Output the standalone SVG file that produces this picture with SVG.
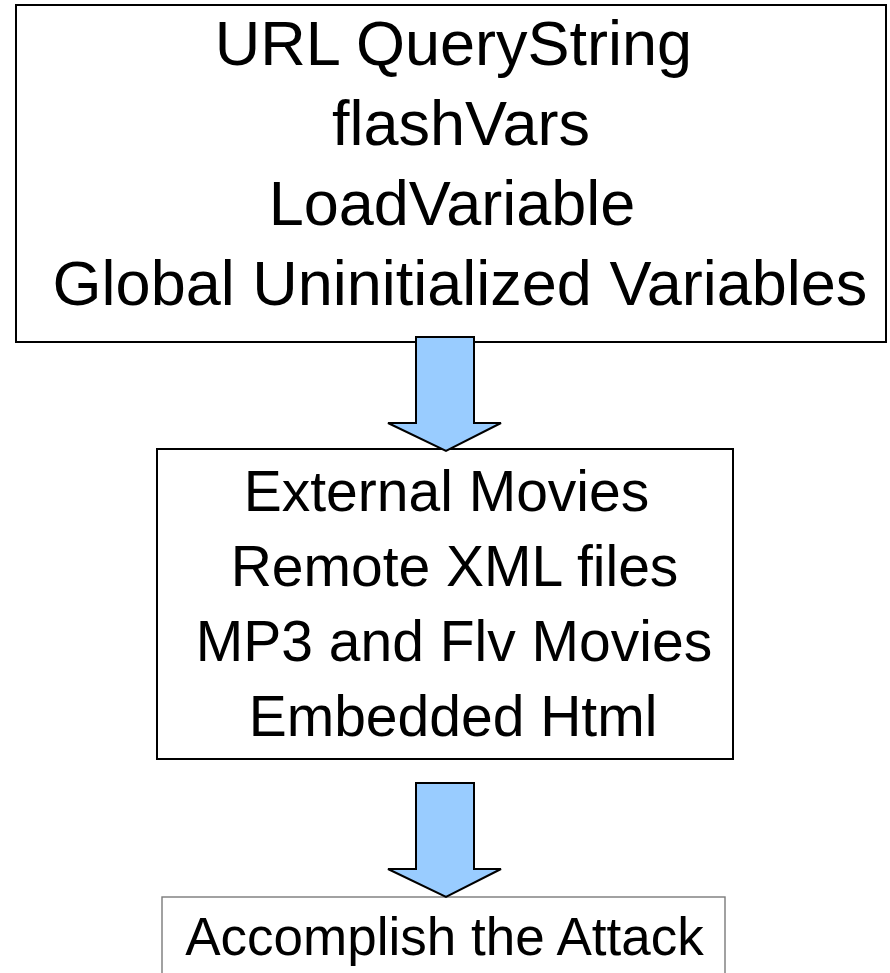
<svg xmlns="http://www.w3.org/2000/svg" width="890" height="973" viewBox="0 0 890 973">
  <style>
    .box { fill: #ffffff; stroke: #000000; stroke-width: 2; }
    .box-light { fill: #ffffff; stroke: #7a7a7a; stroke-width: 1.4; }
    .arrow { fill: #99ccff; stroke: #000000; stroke-width: 2; stroke-linejoin: miter; }
    .t1 { font-family: "Liberation Sans", Arial, sans-serif; font-size: 63px; fill: #000000; text-anchor: middle; }
    .t2 { font-family: "Liberation Sans", Arial, sans-serif; font-size: 57px; fill: #000000; text-anchor: middle; }
    .t3 { font-family: "Liberation Sans", Arial, sans-serif; font-size: 53px; fill: #000000; text-anchor: middle; }
  </style>
  <rect width="890" height="973" fill="#ffffff"/>

  <g id="sources">
    <rect class="box" x="16" y="5" width="870" height="337"/>
    <text class="t1" x="453.5" y="65">URL QueryString</text>
    <text class="t1" x="461" y="145">flashVars</text>
    <text class="t1" x="452" y="225">LoadVariable</text>
    <text class="t1" x="460" y="305">Global Uninitialized Variables</text>
  </g>

  <g id="content">
    <rect class="box" x="157" y="449" width="576" height="310"/>
    <text class="t2" x="446.5" y="511">External Movies</text>
    <text class="t2" x="454.5" y="586">Remote XML files</text>
    <text class="t2" x="454" y="661">MP3 and Flv Movies</text>
    <text class="t2" x="453" y="736">Embedded Html</text>
  </g>

  <g id="attack">
    <rect class="box-light" x="162" y="897" width="563" height="90"/>
    <text class="t3" x="444.5" y="955">Accomplish the Attack</text>
  </g>

  <g id="connectors">
    <polygon class="arrow" points="416,337 474,337 474,423 501,423 446,451 388,423 416,423"/>
    <polygon class="arrow" points="416,783 474,783 474,869 501,869 446,897 388,869 416,869"/>
  </g>
</svg>
